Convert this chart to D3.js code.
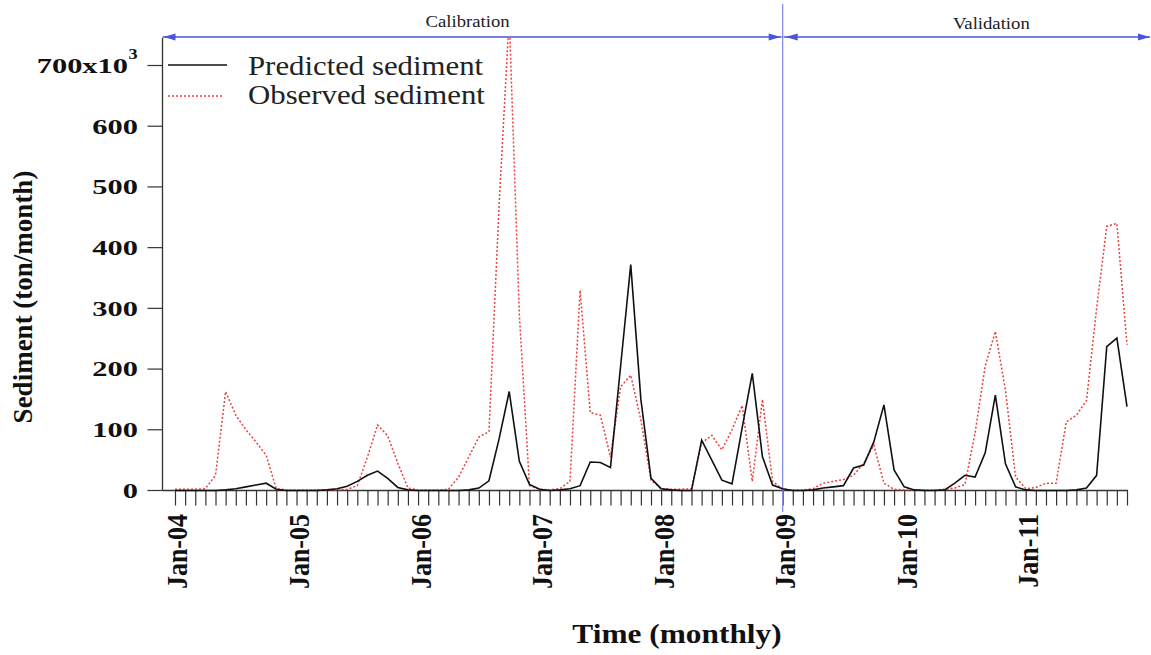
<!DOCTYPE html>
<html>
<head>
<meta charset="utf-8">
<script src="https://cdn.jsdelivr.net/npm/d3@7"></script>
<style>
  html, body { margin: 0; padding: 0; background: #fff; }
  svg { display: block; }
  svg text { font-family: "Liberation Serif", "DejaVu Serif", serif; }
</style>
</head>
<body>
<svg id="chart" width="1151" height="655"></svg>
<script>
// Monthly sediment load, Jan-2004 .. Nov-2011 (x10^3 ton/month)
const predicted = [
  0, 0, 0, 0, 0, 1, 3, 6, 9, 12, 2, 0,
  0, 0, 0, 1, 3, 7, 15, 25, 32, 20, 5, 1,
  0, 0, 0, 0, 0, 1, 4, 16, 85, 163, 48, 10,
  2, 0, 1, 3, 8, 47, 46, 38, 205, 372, 150, 20,
  3, 1, 0, 0, 83, 50, 17, 11, 103, 193, 56, 9,
  3, 0, 0, 1, 4, 6, 8, 37, 42, 80, 141, 34,
  6, 1, 0, 0, 1, 12, 25, 22, 62, 157, 44, 6,
  1, 0, 0, 0, 0, 1, 4, 25, 237, 251, 138
];
const observed = [
  2, 2, 2, 3, 25, 163, 124, 100, 80, 58, 3, 1,
  1, 1, 1, 1, 1, 2, 8, 55, 108, 90, 45, 4,
  1, 1, 1, 2, 22, 55, 88, 97, 470, 780, 290, 8,
  2, 1, 3, 15, 330, 128, 124, 55, 171, 190, 116, 17,
  3, 2, 2, 3, 78, 91, 67, 100, 140, 15, 150, 15,
  2, 1, 1, 3, 12, 15, 18, 25, 45, 75, 12, 2,
  1, 1, 1, 1, 2, 4, 10, 95, 205, 262, 165, 22,
  3, 5, 12, 12, 113, 124, 148, 300, 435, 440, 240
];
const yearLabels = ["Jan-04", "Jan-05", "Jan-06", "Jan-07", "Jan-08", "Jan-09", "Jan-10", "Jan-11"];
const yTicks = [0, 100, 200, 300, 400, 500, 600, 700];
const splitMonth = 60; // Jan-09: start of the validation period
const periods = ["Calibration", "Validation"];
const seriesNames = ["Predicted sediment", "Observed sediment"];

const svg = d3.select("#chart");
const n = predicted.length;

const x = d3.scaleLinear().domain([0, n - 1]).range([175, 1127]);
const y = d3.scaleLinear().domain([0, 700]).range([490.5, 65.5]);

const axisX = 162.5;        // left axis line
const plotTop = 38;
const plotRight = 1128;
const blue = "#4a55dd";
const serif = "Liberation Serif";

// clip for the series
svg.append("defs").append("clipPath").attr("id", "plot-clip")
  .append("rect").attr("x", axisX).attr("y", plotTop)
  .attr("width", 1151 - axisX).attr("height", y(0) - plotTop + 2);

// helper for horizontally stretched text
function stretchedText(g, tx, ty, sx, txt) {
  return g.append("text").attr("font-family", serif)
    .attr("transform", `translate(${tx},${ty}) scale(${sx},1)`).text(txt);
}

// ---------- y axis ----------
const gy = svg.append("g");
gy.append("line").attr("x1", axisX).attr("x2", axisX)
  .attr("y1", plotTop).attr("y2", y(0)).attr("stroke", "#333").attr("stroke-width", 1.3);
gy.selectAll("line.tick").data(yTicks).enter().append("line")
  .attr("class", "tick")
  .attr("x1", axisX - 15).attr("x2", axisX)
  .attr("y1", d => y(d)).attr("y2", d => y(d))
  .attr("stroke", "#333").attr("stroke-width", 1.2);
yTicks.forEach(v => {
  const t = gy.append("text").attr("font-family", serif)
    .attr("transform", `translate(${v === 700 ? 128 : 138},${y(v)}) scale(1.45,1)`)
    .attr("dy", "0.35em").attr("text-anchor", "end")
    .attr("font-weight", "bold").attr("font-size", 21).attr("fill", "#111");
  if (v === 700) {
    t.text("700x10");
    gy.append("text").attr("font-family", serif)
      .attr("transform", `translate(128.5,${y(v) - 7}) scale(1.3,1)`)
      .attr("font-weight", "bold").attr("font-size", 14).attr("fill", "#111").text("3");
  } else {
    t.text(v);
  }
});
gy.append("text").attr("font-family", serif)
  .attr("transform", `translate(32,297) rotate(-90)`)
  .attr("text-anchor", "middle").attr("font-weight", "bold")
  .attr("font-size", 27).attr("fill", "#111")
  .text("Sediment (ton/month)");

// ---------- x axis ----------
const gx = svg.append("g");
gx.append("line").attr("x1", axisX).attr("x2", plotRight)
  .attr("y1", y(0)).attr("y2", y(0)).attr("stroke", "#333").attr("stroke-width", 1.3);
const xAxis = d3.axisBottom(x).tickValues(d3.range(n)).tickFormat("").tickSize(15).tickSizeOuter(0);
const axG = gx.append("g").attr("transform", `translate(0,${y(0)})`).call(xAxis);
axG.select(".domain").remove();
axG.selectAll(".tick line").attr("stroke", "#333").attr("stroke-width", 1.2);

yearLabels.forEach((lab, k) => {
  gx.append("text").attr("font-family", serif)
    .attr("transform", `translate(${x(k * 12) + 2},514) scale(1.15,1) rotate(-90)`)
    .attr("text-anchor", "end").attr("dy", "0.35em")
    .attr("font-weight", "bold").attr("font-size", 26).attr("fill", "#111")
    .text(lab);
});
stretchedText(gx, 677, 643, 1.12, "Time (monthly)")
  .attr("text-anchor", "middle").attr("font-weight", "bold")
  .attr("font-size", 28).attr("fill", "#111");

// ---------- calibration / validation markers ----------
const gp = svg.append("g");
const xs = x(splitMonth);
gp.append("line").attr("x1", xs).attr("x2", xs).attr("y1", 4).attr("y2", 512)
  .attr("stroke", "#8790e6").attr("stroke-width", 1.3);

function arrowHead(px, py, dir) {
  gp.append("path")
    .attr("d", `M${px},${py} l${-dir * 12},-3.5 l0,7 Z`)
    .attr("fill", blue);
}
const arrowY = 37;
gp.append("line").attr("x1", axisX).attr("x2", xs - 1).attr("y1", arrowY).attr("y2", arrowY)
  .attr("stroke", blue).attr("stroke-width", 1.6);
gp.append("line").attr("x1", xs + 1).attr("x2", 1150).attr("y1", arrowY).attr("y2", arrowY)
  .attr("stroke", blue).attr("stroke-width", 1.6);
arrowHead(axisX + 1, arrowY, -1);
arrowHead(xs - 2, arrowY, 1);
arrowHead(xs + 3, arrowY, -1);
arrowHead(1150, arrowY, 1);

stretchedText(gp, (axisX + xs) / 2 - 5, 27, 1.1, periods[0])
  .attr("text-anchor", "middle").attr("font-size", 17).attr("fill", "#222");
stretchedText(gp, (xs + 1150) / 2 + 25, 29, 1.1, periods[1])
  .attr("text-anchor", "middle").attr("font-size", 17).attr("fill", "#222");

// ---------- series ----------
const line = d3.line().x((d, i) => x(i)).y(d => y(d));
const gs = svg.append("g").attr("clip-path", "url(#plot-clip)");
gs.append("path").datum(observed).attr("d", line)
  .attr("fill", "none").attr("stroke", "#e8423e").attr("stroke-width", 1.5)
  .attr("stroke-dasharray", "2,2");
gs.append("path").datum(predicted).attr("d", line)
  .attr("fill", "none").attr("stroke", "#111").attr("stroke-width", 1.6);

// ---------- legend ----------
const gl = svg.append("g");
gl.append("line").attr("x1", 168).attr("x2", 227).attr("y1", 65).attr("y2", 65)
  .attr("stroke", "#111").attr("stroke-width", 1.6);
gl.append("line").attr("x1", 168).attr("x2", 222).attr("y1", 96).attr("y2", 96)
  .attr("stroke", "#e8423e").attr("stroke-width", 1.5).attr("stroke-dasharray", "2,2");
stretchedText(gl, 248, 75, 1.1, seriesNames[0]).attr("font-size", 28).attr("fill", "#222");
stretchedText(gl, 248, 104, 1.1, seriesNames[1]).attr("font-size", 28).attr("fill", "#222");
</script>
</body>
</html>
